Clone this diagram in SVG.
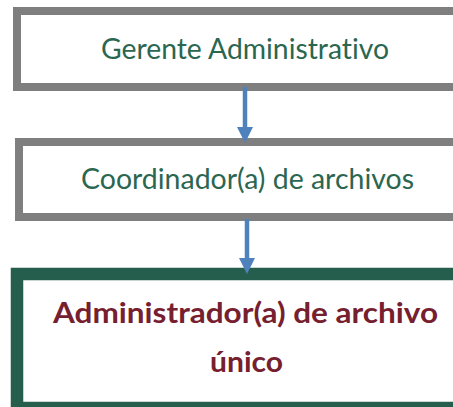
<svg xmlns="http://www.w3.org/2000/svg" width="453" height="407" viewBox="0 0 453 407">
  <style>
    .box { fill: #ffffff; }
    .gray { stroke: #7f7f7f; stroke-width: 8; }
    .green { stroke: #265e4d; stroke-width: 12.5; }
    .lbl { font-family: Lato, "Open Sans", "Liberation Sans", sans-serif; text-anchor: middle; font-variant-ligatures: none; }
    .reg { fill: #2b6651; font-size: 29.5px; }
    .bold { fill: #76202f; font-size: 28.5px; font-weight: bold; }
    .conn { stroke: #4f81bd; stroke-width: 4.5; fill: none; marker-end: url(#head); }
  </style>
  <defs>
    <marker id="head" markerUnits="userSpaceOnUse" markerWidth="16" markerHeight="16" refX="0" refY="8" orient="auto">
      <path d="M0,0 L16,8 L0,16 Z" fill="#4f81bd"/>
    </marker>
  </defs>
  <rect width="453" height="407" fill="#ffffff"/>
  <g id="node-gerente">
    <rect class="box gray" x="17" y="11" width="460" height="76"/>
    <text class="lbl reg" x="245" y="59" textLength="288" lengthAdjust="spacingAndGlyphs">Gerente Administrativo</text>
  </g>
  <g id="node-coordinador">
    <rect class="box gray" x="19" y="142" width="460" height="75"/>
    <text class="lbl reg" x="247.5" y="189" textLength="333" lengthAdjust="spacingAndGlyphs">Coordinador(a) de archivos</text>
  </g>
  <g id="node-administrador">
    <rect class="box green" x="17" y="274" width="460" height="134"/>
    <text class="lbl bold" x="245.5" y="323" textLength="385" lengthAdjust="spacingAndGlyphs">Administrador(a) de archivo</text>
    <text class="lbl bold" x="246.5" y="372" textLength="73" lengthAdjust="spacingAndGlyphs">único</text>
  </g>
  <g id="connectors">
    <line class="conn" x1="245" y1="87" x2="245" y2="127"/>
    <line class="conn" x1="247" y1="219" x2="247" y2="258"/>
  </g>
</svg>
